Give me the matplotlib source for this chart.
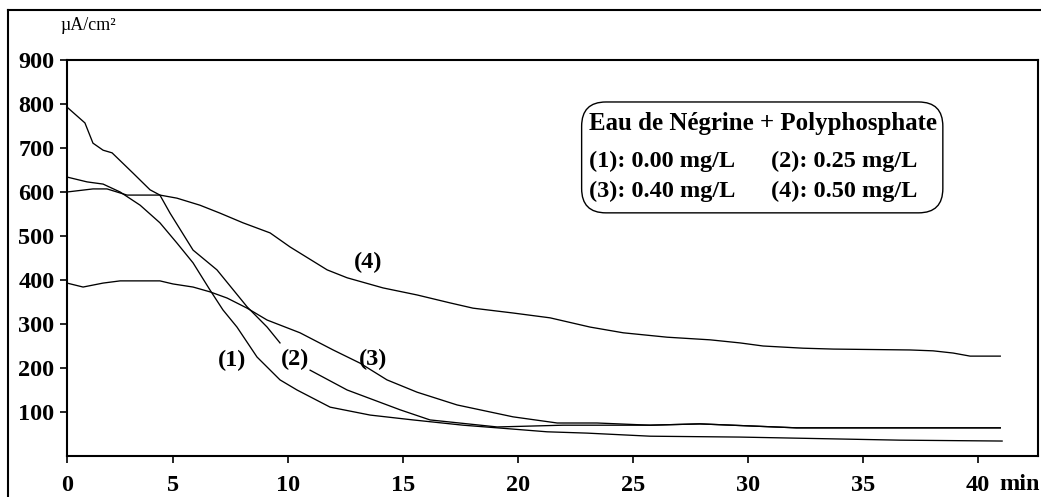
import matplotlib
matplotlib.use('Agg')
import matplotlib.pyplot as plt
import numpy as np
from matplotlib.patches import FancyBboxPatch
from matplotlib.lines import Line2D

# ---- data (time in min, current density in µA/cm²) ----
t1 = [0.39, 1.26, 1.96, 2.70, 3.57, 4.43, 5.17, 5.87, 6.61, 7.17, 7.78, 8.65, 9.65,
      10.39, 11.83, 13.57, 15.43, 17.61, 19.09, 21.26, 23.0, 25.74, 29.65, 36.6, 41.04]
v1 = [634, 623, 618, 600, 570, 530, 484, 439, 377, 332, 293, 225, 173,
      150, 111, 93, 82, 70, 64, 55, 52, 45, 43, 36, 34]

t2 = [0.39, 1.17, 1.52, 1.96, 2.35, 3.26, 4.0, 4.43, 4.87, 5.87, 6.91, 8.22, 9.09, 9.65,
      np.nan, 10.96, 12.57, 14.87, 16.17, 19.09, 21.96, 25.74, 27.9, 32.1, 40.96]
v2 = [793, 757, 711, 695, 689, 643, 605, 593, 552, 468, 423, 339, 293, 257,
      np.nan, 195, 150, 105, 82, 66, 70, 70, 73, 64, 64]

t3 = [0.39, 1.09, 1.96, 2.70, 4.43, 5.0, 5.87, 6.61, 7.35, 8.22, 9.09, 10.52, 11.96,
      13.13, 14.3, 15.61, 17.35, 19.78, 21.7, 23.43, 25.74, 27.9, 32.1, 40.96]
v3 = [393, 384, 393, 398, 398, 391, 384, 373, 359, 336, 309, 280, 241,
      211, 173, 145, 116, 89, 75, 75, 70, 73, 64, 64]

t4 = [0.39, 1.52, 2.13, 3.0, 4.43, 5.17, 6.17, 7.04, 8.04, 9.22, 10.09, 11.7, 12.57,
      14.13, 15.61, 17.04, 18.04, 19.78, 21.39, 23.13, 24.57, 26.48, 28.35, 29.65,
      30.65, 32.39, 33.7, 37.04, 38.04, 38.91, 39.65, 40.96]
v4 = [600, 607, 607, 593, 593, 586, 570, 552, 530, 507, 475, 423, 405,
      382, 366, 348, 336, 325, 314, 293, 280, 270, 264, 257,
      250, 245, 243, 241, 239, 234, 227, 227]

x_ticks = [5, 10, 15, 20, 25, 30, 35, 40]
x_labels = ['5', '10', '15', '20', '25', '30', '35', '40']
y_ticks = [100, 200, 300, 400, 500, 600, 700, 800, 900]
y_labels = ['100', '200', '300', '400', '500', '600', '700', '800', '900']
curve_labels = ['(1)', '(2)', '(3)', '(4)']
legend_title = 'Eau de Négrine + Polyphosphate'
legend_rows = [['(1): 0.00 mg/L', '(2): 0.25 mg/L'],
               ['(3): 0.40 mg/L', '(4): 0.50 mg/L']]

W, H = 1041, 497
FONT = 'Liberation Serif'
FS = 17.5

fig = plt.figure(figsize=(W / 100, H / 100), dpi=100)
fig.patch.set_facecolor('white')
ax = fig.add_axes([67 / W, 41 / H, 971 / W, 396 / H])

for t, v in [(t1, v1), (t2, v2), (t3, v3), (t4, v4)]:
    ax.plot(t, v, color='black', lw=0.95, solid_joinstyle='miter')

x0 = 0.391
ax.set_xlim(x0, 42.6)
ax.set_ylim(0, 900)
ax.set_xticks([x0] + x_ticks)
ax.set_xticklabels(['0'] + x_labels)
ax.set_yticks(y_ticks)
ax.set_yticklabels(y_labels)

for sp in ax.spines.values():
    sp.set_linewidth(1.5)
    sp.set_color('black')
ax.tick_params(axis='both', direction='out', length=5, width=1.2, colors='black')
ax.tick_params(axis='x', pad=9)
ax.tick_params(axis='y', pad=4)
for lab in ax.get_xticklabels() + ax.get_yticklabels():
    lab.set_fontfamily(FONT)
    lab.set_fontweight('bold')
    lab.set_fontsize(FS)

# curve labels
label_pos = [(7.57, 218), (10.3, 220), (13.7, 220), (13.5, 439)]
for lab, (x, y) in zip(curve_labels, label_pos):
    ax.text(x, y, lab, ha='center', va='center', fontfamily=FONT,
            fontweight='bold', fontsize=FS)

# legend box
box = FancyBboxPatch((0.530, 0.614), 0.372, 0.280,
                     boxstyle='round,pad=0,rounding_size=0.025',
                     transform=ax.transAxes, fill=False, ec='black', lw=1.0,
                     mutation_aspect=971 / 396)
ax.add_patch(box)


def fx(px):
    return px / W


def fy(py):
    return 1 - py / H


fig.text(fx(589), fy(130), legend_title, ha='left', va='baseline',
         fontfamily=FONT, fontweight='bold', fontsize=FS + 0.4)
for row, py in zip(legend_rows, [167, 197]):
    fig.text(fx(589), fy(py), row[0], ha='left', va='baseline',
             fontfamily=FONT, fontweight='bold', fontsize=FS)
    fig.text(fx(771), fy(py), row[1], ha='left', va='baseline',
             fontfamily=FONT, fontweight='bold', fontsize=FS)

# unit labels
fig.text(fx(999), fy(485), 'min', ha='left', va='center',
         fontfamily=FONT, fontweight='bold', fontsize=FS)
fig.text(fx(88), fy(25), 'µA/cm²', ha='center', va='center',
         fontfamily=FONT, fontsize=13)

# outer frame
fig.add_artist(Line2D([fx(8), fx(8)], [0, fy(10)], transform=fig.transFigure,
                      color='black', lw=1.5))
fig.add_artist(Line2D([fx(8), 1], [fy(10), fy(10)], transform=fig.transFigure,
                      color='black', lw=1.5))

fig.savefig('out.png', dpi=100)
